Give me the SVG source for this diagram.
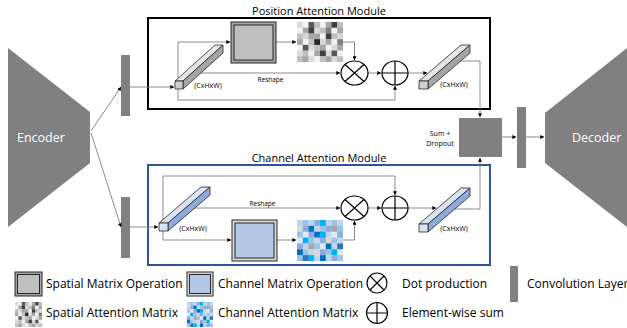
<svg xmlns="http://www.w3.org/2000/svg" width="627" height="328" viewBox="0 0 627 328">
<style>
.ln{fill:none;stroke:#7f7f7f;stroke-width:0.9}
.ar{marker-end:url(#ah)}
.blk{fill:#808080}
.t{font-family:"Open Sans","DejaVu Sans",sans-serif;fill:#000}
.lg{font-size:12px}
.sm{font-size:7px}
.rs{font-size:6.5px}
.ti{font-size:11px}
.w{fill:#fff;font-size:12.5px}
.sym{fill:#fff;stroke:#000;stroke-width:1.2}
.symL{fill:none;stroke:#000;stroke-width:1.2}
.bar{stroke:#262626;stroke-width:0.8;stroke-linejoin:round}
.gF{fill:#d0cece}.gT{fill:#e7e6e6}.gR{fill:#a6a6a6}
.bF{fill:#dae3f3}.bT{fill:#dae3f3}.bR{fill:#8faadc}
.opO{stroke:#262626;stroke-width:1}
</style>
<defs>
<marker id="ah" viewBox="0 0 6 6" refX="5.5" refY="3" markerWidth="5" markerHeight="4" markerUnits="userSpaceOnUse" orient="auto">
<path d="M0,0 L6,3 L0,6 z" fill="#000"/>
</marker>
<g id="smat">
<rect x="0" y="0" width="1.05" height="1.05" fill="#d9d9d9"/><rect x="1" y="0" width="1.05" height="1.05" fill="#f2f2f2"/><rect x="2" y="0" width="1.05" height="1.05" fill="#595959"/><rect x="3" y="0" width="1.05" height="1.05" fill="#bfbfbf"/><rect x="4" y="0" width="1.05" height="1.05" fill="#f2f2f2"/><rect x="5" y="0" width="1.05" height="1.05" fill="#a6a6a6"/><rect x="6" y="0" width="1.05" height="1.05" fill="#404040"/><rect x="7" y="0" width="1" height="1.05" fill="#bfbfbf"/>
<rect x="0" y="1" width="1.05" height="1.05" fill="#f2f2f2"/><rect x="1" y="1" width="1.05" height="1.05" fill="#a6a6a6"/><rect x="2" y="1" width="1.05" height="1.05" fill="#404040"/><rect x="3" y="1" width="1.05" height="1.05" fill="#d9d9d9"/><rect x="4" y="1" width="1.05" height="1.05" fill="#bfbfbf"/><rect x="5" y="1" width="1.05" height="1.05" fill="#7f7f7f"/><rect x="6" y="1" width="1.05" height="1.05" fill="#f2f2f2"/><rect x="7" y="1" width="1" height="1.05" fill="#a6a6a6"/>
<rect x="0" y="2" width="1.05" height="1.05" fill="#bfbfbf"/><rect x="1" y="2" width="1.05" height="1.05" fill="#d9d9d9"/><rect x="2" y="2" width="1.05" height="1.05" fill="#a6a6a6"/><rect x="3" y="2" width="1.05" height="1.05" fill="#a6a6a6"/><rect x="4" y="2" width="1.05" height="1.05" fill="#f2f2f2"/><rect x="5" y="2" width="1.05" height="1.05" fill="#404040"/><rect x="6" y="2" width="1.05" height="1.05" fill="#bfbfbf"/><rect x="7" y="2" width="1" height="1.05" fill="#d9d9d9"/>
<rect x="0" y="3" width="1.05" height="1.05" fill="#a6a6a6"/><rect x="1" y="3" width="1.05" height="1.05" fill="#f2f2f2"/><rect x="2" y="3" width="1.05" height="1.05" fill="#bfbfbf"/><rect x="3" y="3" width="1.05" height="1.05" fill="#262626"/><rect x="4" y="3" width="1.05" height="1.05" fill="#d9d9d9"/><rect x="5" y="3" width="1.05" height="1.05" fill="#a6a6a6"/><rect x="6" y="3" width="1.05" height="1.05" fill="#f2f2f2"/><rect x="7" y="3" width="1" height="1.05" fill="#7f7f7f"/>
<rect x="0" y="4" width="1.05" height="1.05" fill="#f2f2f2"/><rect x="1" y="4" width="1.05" height="1.05" fill="#595959"/><rect x="2" y="4" width="1.05" height="1.05" fill="#d9d9d9"/><rect x="3" y="4" width="1.05" height="1.05" fill="#bfbfbf"/><rect x="4" y="4" width="1.05" height="1.05" fill="#a6a6a6"/><rect x="5" y="4" width="1.05" height="1.05" fill="#f2f2f2"/><rect x="6" y="4" width="1.05" height="1.05" fill="#d9d9d9"/><rect x="7" y="4" width="1" height="1.05" fill="#a6a6a6"/>
<rect x="0" y="5" width="1.05" height="1.05" fill="#d9d9d9"/><rect x="1" y="5" width="1.05" height="1.05" fill="#bfbfbf"/><rect x="2" y="5" width="1.05" height="1.05" fill="#f2f2f2"/><rect x="3" y="5" width="1.05" height="1.05" fill="#a6a6a6"/><rect x="4" y="5" width="1.05" height="1.05" fill="#404040"/><rect x="5" y="5" width="1.05" height="1.05" fill="#d9d9d9"/><rect x="6" y="5" width="1.05" height="1.05" fill="#595959"/><rect x="7" y="5" width="1" height="1.05" fill="#f2f2f2"/>
<rect x="0" y="6" width="1.05" height="1" fill="#bfbfbf"/><rect x="1" y="6" width="1.05" height="1" fill="#a6a6a6"/><rect x="2" y="6" width="1.05" height="1" fill="#d9d9d9"/><rect x="3" y="6" width="1.05" height="1" fill="#f2f2f2"/><rect x="4" y="6" width="1.05" height="1" fill="#bfbfbf"/><rect x="5" y="6" width="1.05" height="1" fill="#a6a6a6"/><rect x="6" y="6" width="1.05" height="1" fill="#d9d9d9"/><rect x="7" y="6" width="1" height="1" fill="#bfbfbf"/>
</g>
<g id="cmat">
<rect x="0" y="0" width="1.05" height="1.05" fill="#bdd7ee"/><rect x="1" y="0" width="1.05" height="1.05" fill="#9dc3e6"/><rect x="2" y="0" width="1.05" height="1.05" fill="#bdd7ee"/><rect x="3" y="0" width="1.05" height="1.05" fill="#8faadc"/><rect x="4" y="0" width="1.05" height="1.05" fill="#00b0f0"/><rect x="5" y="0" width="1.05" height="1.05" fill="#bdd7ee"/><rect x="6" y="0" width="1.05" height="1.05" fill="#9dc3e6"/><rect x="7" y="0" width="1" height="1.05" fill="#bdd7ee"/>
<rect x="0" y="1" width="1.05" height="1.05" fill="#d9d9d9"/><rect x="1" y="1" width="1.05" height="1.05" fill="#8faadc"/><rect x="2" y="1" width="1.05" height="1.05" fill="#0070c0"/><rect x="3" y="1" width="1.05" height="1.05" fill="#bdd7ee"/><rect x="4" y="1" width="1.05" height="1.05" fill="#9dc3e6"/><rect x="5" y="1" width="1.05" height="1.05" fill="#8faadc"/><rect x="6" y="1" width="1.05" height="1.05" fill="#a6a6a6"/><rect x="7" y="1" width="1" height="1.05" fill="#9dc3e6"/>
<rect x="0" y="2" width="1.05" height="1.05" fill="#9dc3e6"/><rect x="1" y="2" width="1.05" height="1.05" fill="#deebf7"/><rect x="2" y="2" width="1.05" height="1.05" fill="#8faadc"/><rect x="3" y="2" width="1.05" height="1.05" fill="#0070c0"/><rect x="4" y="2" width="1.05" height="1.05" fill="#00b0f0"/><rect x="5" y="2" width="1.05" height="1.05" fill="#bdd7ee"/><rect x="6" y="2" width="1.05" height="1.05" fill="#deebf7"/><rect x="7" y="2" width="1" height="1.05" fill="#8faadc"/>
<rect x="0" y="3" width="1.05" height="1.05" fill="#deebf7"/><rect x="1" y="3" width="1.05" height="1.05" fill="#00b0f0"/><rect x="2" y="3" width="1.05" height="1.05" fill="#9dc3e6"/><rect x="3" y="3" width="1.05" height="1.05" fill="#bdd7ee"/><rect x="4" y="3" width="1.05" height="1.05" fill="#8faadc"/><rect x="5" y="3" width="1.05" height="1.05" fill="#d9d9d9"/><rect x="6" y="3" width="1.05" height="1.05" fill="#9dc3e6"/><rect x="7" y="3" width="1" height="1.05" fill="#bdd7ee"/>
<rect x="0" y="4" width="1.05" height="1.05" fill="#8faadc"/><rect x="1" y="4" width="1.05" height="1.05" fill="#bdd7ee"/><rect x="2" y="4" width="1.05" height="1.05" fill="#a6a6a6"/><rect x="3" y="4" width="1.05" height="1.05" fill="#9dc3e6"/><rect x="4" y="4" width="1.05" height="1.05" fill="#deebf7"/><rect x="5" y="4" width="1.05" height="1.05" fill="#0070c0"/><rect x="6" y="4" width="1.05" height="1.05" fill="#bdd7ee"/><rect x="7" y="4" width="1" height="1.05" fill="#2e75b6"/>
<rect x="0" y="5" width="1.05" height="1.05" fill="#0070c0"/><rect x="1" y="5" width="1.05" height="1.05" fill="#9dc3e6"/><rect x="2" y="5" width="1.05" height="1.05" fill="#bdd7ee"/><rect x="3" y="5" width="1.05" height="1.05" fill="#d9d9d9"/><rect x="4" y="5" width="1.05" height="1.05" fill="#8faadc"/><rect x="5" y="5" width="1.05" height="1.05" fill="#9dc3e6"/><rect x="6" y="5" width="1.05" height="1.05" fill="#00b0f0"/><rect x="7" y="5" width="1" height="1.05" fill="#deebf7"/>
<rect x="0" y="6" width="1.05" height="1" fill="#9dc3e6"/><rect x="1" y="6" width="1.05" height="1" fill="#2e75b6"/><rect x="2" y="6" width="1.05" height="1" fill="#00b0f0"/><rect x="3" y="6" width="1.05" height="1" fill="#bdd7ee"/><rect x="4" y="6" width="1.05" height="1" fill="#0070c0"/><rect x="5" y="6" width="1.05" height="1" fill="#bdd7ee"/><rect x="6" y="6" width="1.05" height="1" fill="#8faadc"/><rect x="7" y="6" width="1" height="1" fill="#9dc3e6"/>
</g>
</defs>
<rect width="627" height="328" fill="#fff"/>

<!-- Encoder / Decoder -->
<g id="encoder">
<polygon class="blk" points="8,48 90,112 90,163 8,227"/>
<text class="t w" x="17" y="142">Encoder</text>
</g>
<g id="decoder">
<polygon class="blk" points="545,113 627,48 627,227 545,163"/>
<text class="t w" x="572" y="142">Decoder</text>
</g>
<g id="conv-top"><rect class="blk" x="121" y="55" width="9" height="61"/></g>
<g id="conv-bottom"><rect class="blk" x="121" y="197" width="9" height="61"/></g>
<g id="conv-right"><rect class="blk" x="517" y="107" width="9" height="61"/></g>
<g id="sum-dropout">
<rect class="blk" x="459" y="118" width="43" height="39"/>
<text class="t sm" x="440" y="136" text-anchor="middle">Sum +</text>
<text class="t sm" x="440" y="146" text-anchor="middle">Dropout</text>
</g>

<!-- Module frames -->
<g id="pam-frame">
<rect x="148" y="18" width="342" height="91" fill="none" stroke="#000" stroke-width="2"/>
<text class="t ti" x="319" y="15" text-anchor="middle">Position Attention Module</text>
</g>
<g id="cam-frame">
<rect x="148" y="165" width="342" height="100" fill="none" stroke="#2f5597" stroke-width="2"/>
<text class="t ti" x="319" y="162" text-anchor="middle">Channel Attention Module</text>
</g>

<!-- Connectors -->
<g id="connectors">
<path class="ln ar" d="M91,131 L121,87"/>
<path class="ln ar" d="M91,133 L121,227"/>
<path class="ln ar" d="M130,87 L174,87"/>
<path class="ln ar" d="M130,227 L158,227"/>
<path class="ln ar" d="M502,137 L516,137"/>
<path class="ln ar" d="M526,137 L544,137"/>
<!-- PAM -->
<path class="ln ar" d="M178,81 L178,42 L230,42"/>
<path class="ln ar" d="M178,89 L178,100 L395,100 L395,86"/>
<path class="ln ar" d="M186,73 L340,73"/>
<path class="ln ar" d="M276,42 L296,42"/>
<path class="ln ar" d="M343,42 L354.5,42 L354.5,60"/>
<path class="ln ar" d="M368,73 L381,73"/>
<path class="ln ar" d="M408,73 L427,73"/>
<path class="ln ar" d="M456,61 L480,61 L480,117"/>
<!-- CAM -->
<path class="ln ar" d="M163,223 L163,176 L395,176 L395,195"/>
<path class="ln ar" d="M163,231 L163,240 L231,240"/>
<path class="ln ar" d="M190,208 L340,208"/>
<path class="ln ar" d="M277,240 L296,240"/>
<path class="ln ar" d="M343,240 L354.5,240 L354.5,221"/>
<path class="ln ar" d="M368,208 L381,208"/>
<path class="ln ar" d="M408,208 L436,208"/>
<path class="ln ar" d="M452,209 L480,209 L480,158"/>
</g>

<!-- PAM nodes -->
<g id="pam-input-bar">
<path class="bar gT" d="M175,81 L215,45 L223,45 L183,81 Z"/>
<path class="bar gR" d="M183,81 L223,45 L223,53 L183,89 Z"/>
<rect class="bar gF" x="175" y="81" width="8" height="8"/>
<text class="t sm" x="208" y="88" text-anchor="middle">(CxHxW)</text>
</g>
<g id="pam-spatial-op">
<rect class="opO" x="231" y="22" width="45" height="41" fill="#a6a6a6"/>
<rect class="opO" x="234" y="25" width="39" height="35" fill="#bfbfbf"/>
</g>
<g id="pam-matrix"><use href="#smat" transform="translate(297,22) scale(5.75,5.714)"/></g>
<g id="pam-dot">
<ellipse class="sym" cx="354.5" cy="73" rx="13.5" ry="12"/>
<path class="symL" d="M345,64.5 L364,81.5 M345,81.5 L364,64.5"/>
</g>
<g id="pam-sum">
<ellipse class="sym" cx="395" cy="73" rx="13" ry="12"/>
<path class="symL" d="M382,73 L408,73 M395,61 L395,85"/>
</g>
<g id="pam-output-bar">
<path class="bar gT" d="M419,81 L461,45 L470,45 L428,81 Z"/>
<path class="bar gR" d="M428,81 L470,45 L470,53 L428,89 Z"/>
<rect class="bar gF" x="419" y="81" width="9" height="8"/>
<text class="t sm" x="454" y="87" text-anchor="middle">(CxHxW)</text>
</g>
<text class="t rs" x="270.5" y="82" text-anchor="middle">Reshape</text>

<!-- CAM nodes -->
<g id="cam-input-bar">
<path class="bar bT" d="M159,223 L201,187 L210,187 L168,223 Z"/>
<path class="bar bR" d="M168,223 L210,187 L210,195 L168,231 Z"/>
<rect class="bar bF" x="159" y="223" width="9" height="8"/>
<text class="t sm" x="193" y="231" text-anchor="middle">(CxHxW)</text>
</g>
<g id="cam-channel-op">
<rect class="opO" x="232" y="220" width="45" height="41" fill="#d9d9d9"/>
<rect class="opO" x="235" y="223" width="39" height="35" fill="#b4c7e7"/>
</g>
<g id="cam-matrix"><use href="#cmat" transform="translate(297,220) scale(5.75,5.857)"/></g>
<g id="cam-dot">
<ellipse class="sym" cx="354.5" cy="208" rx="13.5" ry="12"/>
<path class="symL" d="M345,199.5 L364,216.5 M345,216.5 L364,199.5"/>
</g>
<g id="cam-sum">
<ellipse class="sym" cx="395" cy="208" rx="13" ry="12"/>
<path class="symL" d="M382,208 L408,208 M395,196 L395,220"/>
</g>
<g id="cam-output-bar">
<path class="bar bT" d="M419,224 L461,188 L470,188 L428,224 Z"/>
<path class="bar bR" d="M428,224 L470,188 L470,196 L428,232 Z"/>
<rect class="bar bF" x="419" y="224" width="9" height="8"/>
<text class="t sm" x="454" y="231" text-anchor="middle">(CxHxW)</text>
</g>
<text class="t rs" x="262.5" y="206" text-anchor="middle">Reshape</text>

<!-- Legend -->
<g id="legend">
<rect class="opO" x="15" y="272" width="27" height="24" fill="#a6a6a6"/>
<rect class="opO" x="17.5" y="274.5" width="22" height="19" fill="#bfbfbf"/>
<text class="t lg" x="46" y="288">Spatial Matrix Operation</text>
<rect class="opO" x="187" y="272" width="26" height="24" fill="#d9d9d9"/>
<rect class="opO" x="189.5" y="274.5" width="21" height="19" fill="#b4c7e7"/>
<text class="t lg" x="218" y="288">Channel Matrix Operation</text>
<circle class="sym" cx="377" cy="283" r="10"/>
<path class="symL" d="M370,276 L384,290 M370,290 L384,276"/>
<text class="t lg" x="402" y="288">Dot production</text>
<rect class="blk" x="510" y="266" width="8" height="36"/>
<text class="t lg" x="527" y="288">Convolution Layer</text>
<use href="#smat" transform="translate(15,302) scale(3.375,3.57)"/>
<text class="t lg" x="46" y="317">Spatial Attention Matrix</text>
<use href="#cmat" transform="translate(187,302) scale(3.25,3.57)"/>
<text class="t lg" x="218" y="317">Channel Attention Matrix</text>
<circle class="sym" cx="377" cy="313" r="10.5"/>
<path class="symL" d="M366.5,313 L387.5,313 M377,302.5 L377,323.5"/>
<text class="t lg" x="402" y="317">Element-wise sum</text>
</g>
</svg>
